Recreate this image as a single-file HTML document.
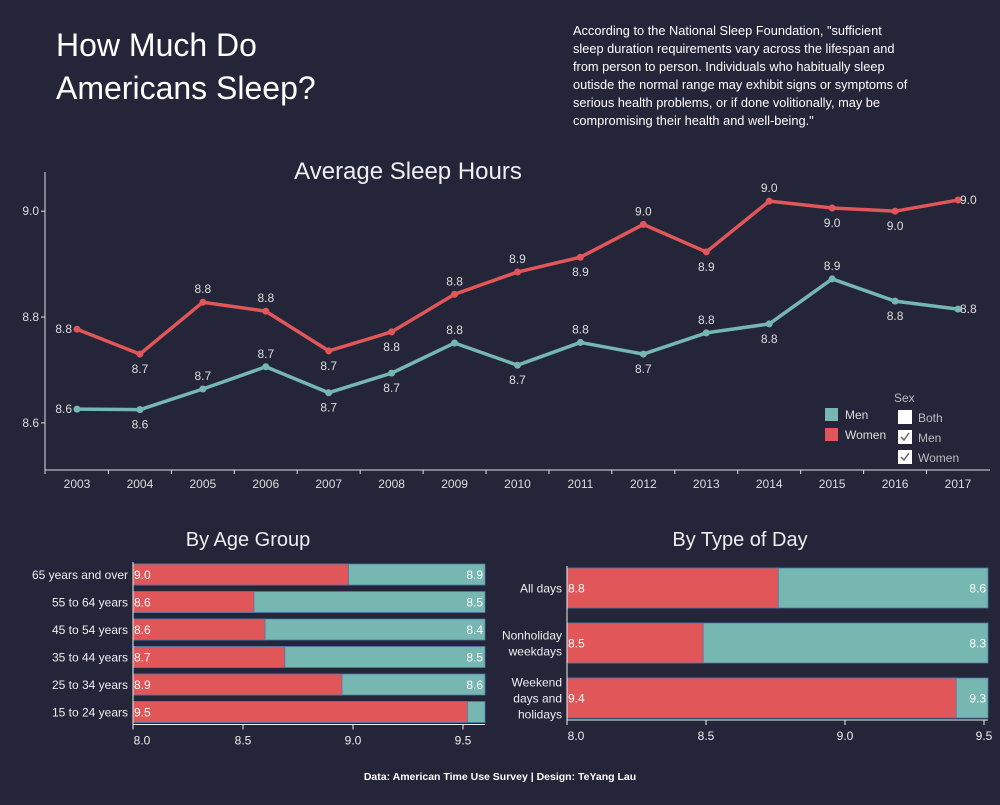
<!DOCTYPE html>
<html><head><meta charset="utf-8">
<style>
body{margin:0;background:#242539;width:1000px;height:800px;overflow:hidden;font-family:"Liberation Sans",sans-serif;}
svg text{font-family:"Liberation Sans",sans-serif;}
</style></head>
<body>
<svg id="chart" width="1000" height="800" xmlns="http://www.w3.org/2000/svg">
<rect width="1000" height="800" fill="#242539"/>
<text x="56" y="56" fill="#fff" font-size="32">How Much Do</text>
<text x="56" y="99" fill="#fff" font-size="32">Americans Sleep?</text>
<g fill="#fff" font-size="12.8">
<text x="573" y="35">According to the National Sleep Foundation, "sufficient</text>
<text x="573" y="53">sleep duration requirements vary across the lifespan and</text>
<text x="573" y="71">from person to person. Individuals who habitually sleep</text>
<text x="573" y="89">outisde the normal range may exhibit signs or symptoms of</text>
<text x="573" y="107">serious health problems, or if done volitionally, may be</text>
<text x="573" y="125">compromising their health and well-being."</text>
</g>
<text x="408" y="179" fill="#eee" font-size="24" text-anchor="middle">Average Sleep Hours</text>
<g id="line"></g>
<g>
<rect x="825" y="408" width="13" height="13" fill="#76b7b2"/>
<text x="845" y="419" fill="#ddd" font-size="12">Men</text>
<rect x="825" y="428" width="13" height="13" fill="#e15759"/>
<text x="845" y="439" fill="#ddd" font-size="12">Women</text>
<text x="894" y="402" fill="#bbb" font-size="12">Sex</text>
<rect x="898" y="410" width="14" height="14" fill="#fff"/>
<text x="918" y="422" fill="#bbb" font-size="12">Both</text>
<rect x="898" y="430" width="14" height="14" fill="#fff"/>
<path d="M901 437l3 3 5-7" stroke="#666" fill="none" stroke-width="1.5"/>
<text x="918" y="442" fill="#bbb" font-size="12">Men</text>
<rect x="898" y="450" width="14" height="14" fill="#fff"/>
<path d="M901 457l3 3 5-7" stroke="#666" fill="none" stroke-width="1.5"/>
<text x="918" y="462" fill="#bbb" font-size="12">Women</text>
</g>
<text x="248" y="546" fill="#eee" font-size="20" text-anchor="middle">By Age Group</text>
<g id="age"></g>
<text x="740" y="546" fill="#eee" font-size="20" text-anchor="middle">By Type of Day</text>
<g id="day"></g>
<text x="500" y="780" fill="#fff" font-size="10.5" font-weight="bold" text-anchor="middle">Data: American Time Use Survey | Design: TeYang Lau</text>
</svg>
<script>
const years=[2003,2004,2005,2006,2007,2008,2009,2010,2011,2012,2013,2014,2015,2016,2017];
const women=[8.777,8.73,8.828,8.811,8.736,8.772,8.843,8.885,8.913,8.975,8.923,9.019,9.006,9.0,9.021];
const men=[8.626,8.625,8.664,8.706,8.657,8.694,8.751,8.709,8.752,8.730,8.77,8.787,8.872,8.83,8.815];
const womenLabelPos=['l','b','a','a','b','b','a','a','b','a','b','a','b','b','r'];
const menLabelPos=['l','b','a','a','b','b','a','b','a','b','a','b','a','b','r'];
const yTicks=[8.6,8.8,9.0];
const ageCats=["65 years and over","55 to 64 years","45 to 54 years","35 to 44 years","25 to 34 years","15 to 24 years"];
const ageWomen=[8.98,8.55,8.6,8.69,8.95,9.52];
const ageMen=[8.9,8.5,8.4,8.5,8.6,null];
const dayCats=[["All days"],["Nonholiday","weekdays"],["Weekend","days and","holidays"]];
const dayWomen=[8.76,8.49,9.40];
const dayMen=[8.6,8.3,9.3];
const barTicks=[8.0,8.5,9.0,9.5];

const NS="http://www.w3.org/2000/svg";
function mk(p,t,a){const e=document.createElementNS(NS,t);for(const k in a)e.setAttribute(k,a[k]);p.appendChild(e);return e;}
const L=document.getElementById('line');
const x0=45,x1=990,yTop=172,yBot=470;
const xs=i=>77+i*(958-77)/(years.length-1);
const ys=v=>yBot-(v-8.511)/(9.074-8.511)*(yBot-yTop);
let e=mk(L,'line',{x1:x0,y1:yTop,x2:x0,y2:yBot,stroke:'#ddd'});


e=mk(L,'line',{x1:x0,y1:yBot,x2:x1,y2:yBot,stroke:'#ddd'});


yTicks.forEach(t=>{
  mk(L,'line',{x1:x0-4,x2:x0,y1:ys(t),y2:ys(t),stroke:'#ddd'});
  e=mk(L,'text',{x:x0-6,y:ys(t)+4,fill:'#ddd','font-size':12,'text-anchor':'end'});e.textContent=t.toFixed(1);
  
  
});
years.forEach((y,i)=>{
  const tx=(xs(i)+(i?xs(i-1):x0-16))/2;
  mk(L,'line',{x1:i?tx:x0,x2:i?tx:x0,y1:yBot,y2:yBot+4,stroke:'#ddd'});
  e=mk(L,'text',{x:xs(i),y:yBot+18,fill:'#ddd','font-size':12,'text-anchor':'middle'});e.textContent=y;
  
  
});
function series(vals,pos,col,name){
  e=mk(L,'polyline',{points:vals.map((v,i)=>xs(i)+','+ys(v)).join(' '),fill:'none',stroke:col,'stroke-width':3.5,'stroke-linejoin':'round'});
  
  
  vals.forEach((v,i)=>{
    e=mk(L,'circle',{cx:xs(i),cy:ys(v),r:3.5,fill:col});
    
    
    const p=pos[i];let tx=xs(i),ty=ys(v),an='middle';
    if(p==='a')ty-=9;else if(p==='b')ty+=19;else if(p==='l'){tx-=5;ty+=4;an='end';}else{tx+=2;ty+=4;an='start';}
    e=mk(L,'text',{x:tx,y:ty,fill:'#ddd','font-size':12,'text-anchor':an});e.textContent=v.toFixed(1);
    
    
  });
}
series(women,womenLabelPos,'#e15759','women');
series(men,menLabelPos,'#76b7b2','men');

function bars(gid,cats,wv,mv,ax0,ax95,xEnd,yStart,step,bh,pref){
  const G=document.getElementById(gid);
  const sx=v=>ax0+(v-8)/1.5*(ax95-ax0);
  cats.forEach((c,i)=>{
    const y=yStart+i*step;
    e=mk(G,'rect',{x:ax0,y:y,width:xEnd-ax0,height:bh,fill:'#76b7b2',stroke:'#4e79a7','stroke-width':0.8});
    
    
    e=mk(G,'rect',{x:ax0,y:y,width:sx(wv[i])-ax0,height:bh,fill:'#e15759',stroke:'#4e79a7','stroke-width':0.8});
    
    
    e=mk(G,'text',{x:ax0+1,y:y+bh/2+4.5,fill:'#fff','font-size':12});e.textContent=wv[i].toFixed(1);
    
    
    if(mv[i]!=null){e=mk(G,'text',{x:xEnd-2,y:y+bh/2+4.5,fill:'#fff','font-size':12,'text-anchor':'end'});e.textContent=mv[i].toFixed(1);
    
    }
    const lines=Array.isArray(c)?c:[c];
    lines.forEach((ln,j)=>{
      e=mk(G,'text',{x:ax0-5,y:y+bh/2+4.5+(j-(lines.length-1)/2)*16,fill:'#eee','font-size':12,'text-anchor':'end'});e.textContent=ln;
      
      
    });
  });
  const yb=yStart+cats.length*step-(step-bh)+2;
  e=mk(G,'line',{x1:ax0,x2:ax0,y1:yStart-2,y2:yb,stroke:'#eee'});
  
  
  e=mk(G,'line',{x1:ax0,x2:xEnd,y1:yb,y2:yb,stroke:'#eee'});
  
  
  barTicks.forEach(t=>{
    mk(G,'line',{x1:sx(t),x2:sx(t),y1:yb,y2:yb+5,stroke:'#eee'});
    e=mk(G,'text',{x:sx(t)+(t===8?9:0),y:yb+20,fill:'#eee','font-size':12,'text-anchor':'middle'});e.textContent=t.toFixed(1);
    
    
  });
}
bars('age',ageCats,ageWomen,ageMen,133,463,485,564,27.5,21,'age');
bars('day',dayCats,dayWomen,dayMen,567,984,988,568,55,40,'day');
</script>
</body></html>
